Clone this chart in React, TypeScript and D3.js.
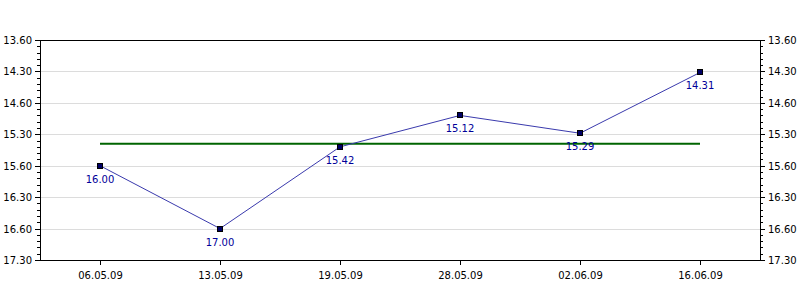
import React from "react";
import * as d3 from "d3";

const categories = ["06.05.09", "13.05.09", "19.05.09", "28.05.09", "02.06.09", "16.06.09"];
const values = [16.0, 17.0, 15.42, 15.12, 15.29, 14.31];
const labels = ["16.00", "17.00", "15.42", "15.12", "15.29", "14.31"];
const yTickLabels = ["13.60", "14.30", "14.60", "15.30", "15.60", "16.30", "16.60", "17.30"];
const yDomainSeconds = [840, 1050];

const W = 800;
const H = 300;
const left = 40;
const right = 760;
const top = 40;
const bottom = 260;
const font = "'DejaVu Sans', Verdana, sans-serif";

const toSec = (v: number) => {
  const m = Math.floor(v + 1e-9);
  const s = Math.round((v - m) * 100);
  return m * 60 + s;
};

export default function App() {
  const x = d3.scaleBand<string>().domain(categories).range([left, right]);
  const y = d3.scaleLinear().domain(yDomainSeconds).range([top, bottom]);
  const cx = (c: string) => (x(c) as number) + x.bandwidth() / 2;
  const secs = values.map(toSec);
  const majorTicks = d3.range(yDomainSeconds[0], yDomainSeconds[1] + 1, 30);
  const minorTicks = d3.range(yDomainSeconds[0], yDomainSeconds[1] + 1, 6).filter((t) => (t - yDomainSeconds[0]) % 30 !== 0);
  const avg = d3.mean(secs) as number;
  const line = d3
    .line<number>()
    .x((_, i) => cx(categories[i]))
    .y((d) => y(d));

  return (
    <svg width={W} height={H} style={{ position: "absolute", left: 0, top: 0, background: "#fff" }} fontFamily={font} fontSize={10}>
      <rect x={0} y={0} width={W} height={H} fill="#fff" />
      {majorTicks.slice(1, -1).map((t) => (
        <line key={"g" + t} x1={left} x2={right} y1={Math.round(y(t)) + 0.5} y2={Math.round(y(t)) + 0.5} stroke="#dcdcdc" />
      ))}
      {/* top line */}
      <line x1={left} x2={right} y1={top + 0.5} y2={top + 0.5} stroke="#000" />
      {/* bottom axis */}
      <line x1={left} x2={right} y1={bottom + 0.5} y2={bottom + 0.5} stroke="#000" />
      {/* left axis */}
      <line x1={left + 0.5} x2={left + 0.5} y1={top} y2={bottom + 1} stroke="#000" />
      {/* right axis */}
      <line x1={right + 0.5} x2={right + 0.5} y1={top} y2={bottom + 1} stroke="#000" />
      {majorTicks.map((t, i) => {
        const yy = Math.round(y(t)) + 0.5;
        return (
          <g key={"t" + t}>
            <line x1={left - 5} x2={left} y1={yy} y2={yy} stroke="#000" />
            <line x1={right} x2={right + 5} y1={yy} y2={yy} stroke="#000" />
            <text x={32} y={yy + 3.5} textAnchor="end" fill="#000">
              {yTickLabels[i]}
            </text>
            <text x={768} y={yy + 3.5} textAnchor="start" fill="#000">
              {yTickLabels[i]}
            </text>
          </g>
        );
      })}
      {minorTicks.map((t) => {
        const yy = Math.round(y(t)) + 0.5;
        return (
          <g key={"m" + t}>
            <line x1={left - 3} x2={left} y1={yy} y2={yy} stroke="#000" />
            <line x1={right} x2={right + 3} y1={yy} y2={yy} stroke="#000" />
          </g>
        );
      })}
      {categories.map((c) => {
        const xx = Math.round(cx(c)) + 0.5;
        return (
          <g key={"x" + c}>
            <line x1={xx} x2={xx} y1={bottom} y2={bottom + 5} stroke="#000" />
            <text x={xx} y={279} textAnchor="middle" fill="#000">
              {c}
            </text>
          </g>
        );
      })}
      <line
        x1={cx(categories[0])}
        x2={cx(categories[categories.length - 1])}
        y1={y(avg)}
        y2={y(avg)}
        stroke="#006400"
        strokeWidth={2}
      />
      <path d={line(secs) as string} fill="none" stroke="#3a3aad" strokeWidth={1} />
      {secs.map((s, i) => (
        <rect
          key={"p" + i}
          x={Math.round(cx(categories[i])) - 2.5}
          y={Math.round(y(s)) - 2.5}
          width={5}
          height={5}
          fill="#000066"
          stroke="#000"
          strokeWidth={1}
        />
      ))}
      {secs.map((s, i) => (
        <text key={"l" + i} x={cx(categories[i])} y={y(s) + 17} textAnchor="middle" fill="#000099">
          {labels[i]}
        </text>
      ))}
    </svg>
  );
}
